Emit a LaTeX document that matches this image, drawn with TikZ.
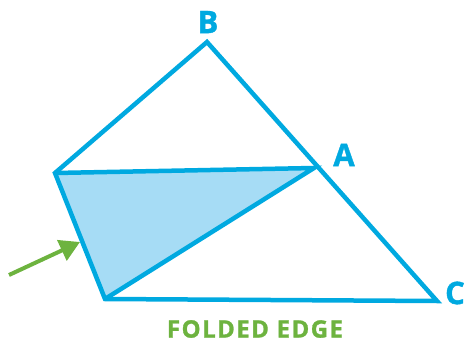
\documentclass[tikz,border=0pt]{standalone}
\usepackage{fontspec}
\setmainfont{Open Sans}
\newfontfamily\labelfont[FakeBold=1.2]{Open Sans Bold}
\newfontfamily\captionfont[LetterSpace=6,FakeBold=1.2]{Open Sans Bold}
\usetikzlibrary{arrows.meta}
\definecolor{edgeblue}{HTML}{00A9E0}
\definecolor{foldfill}{HTML}{A6DCF5}
\definecolor{arrowgreen}{HTML}{6DB33F}
\tikzset{
  edge/.style={draw=edgeblue, line width=4.5pt, line join=miter},
  vlabel/.style={text=edgeblue, font=\labelfont\fontsize{31}{31}\selectfont, inner sep=0pt},
  caption/.style={text=arrowgreen, font=\captionfont\fontsize{24}{24}\selectfont, inner sep=0pt},
  pointer/.style={draw=arrowgreen, line width=4pt, -{Triangle[length=20pt,width=22pt]}}
}
\begin{document}
\begin{tikzpicture}[x=1pt,y=-1pt]
\useasboundingbox (0,0) rectangle (467,343);
\coordinate (B) at (207,42);
\coordinate (L) at (55,173);
\coordinate (A) at (314,168);
\coordinate (P) at (105,299);
\coordinate (C) at (437,301);
\fill[foldfill] (L) -- (A) -- (P) -- cycle;
\draw[edge] (B) -- (L) -- (P) -- (C) -- cycle;
\draw[edge] (L) -- (A) -- (P);
\node[vlabel] (lb) at (208,22) {B};
\node[vlabel] (la) at (344,155) {A};
\node[vlabel] (lc) at (455,293) {C};
\node[caption] (cap) at (255,329) {FOLDED EDGE};
\coordinate (s) at (9,275);
\coordinate (t) at (80,242);
\draw[pointer] (s) -- (t);
\end{tikzpicture}
\end{document}
